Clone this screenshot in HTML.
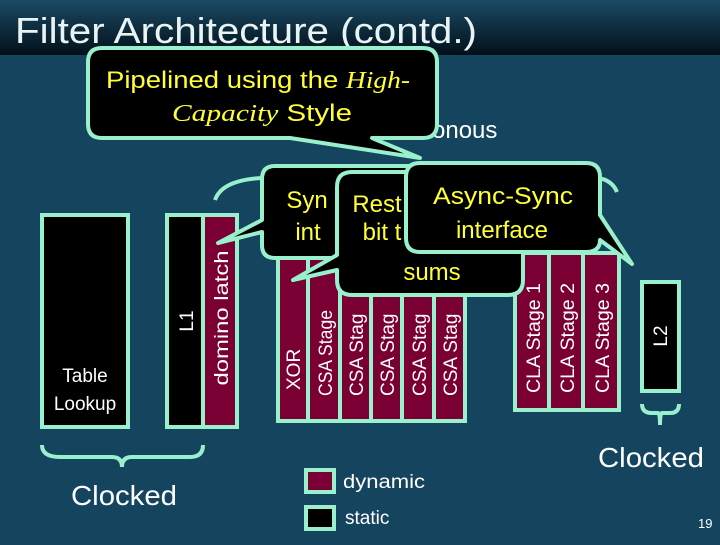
<!DOCTYPE html>
<html><head><style>
html,body{margin:0;padding:0;}
body{width:720px;height:540px;overflow:hidden;background:#15445f;}
text{font-family:"Liberation Sans","DejaVu Sans",sans-serif;}
</style></head><body>
<svg width="720" height="540" viewBox="0 0 720 540" xmlns="http://www.w3.org/2000/svg">
<defs>
<linearGradient id="tb" x1="0" y1="0" x2="0" y2="1">
<stop offset="0" stop-color="#1b4a64"/><stop offset="1" stop-color="#02101a"/>
</linearGradient>
</defs>
<rect x="0" y="0" width="720" height="540" fill="#15445f"/>
<rect x="0" y="0" width="720" height="55" fill="url(#tb)"/>
<text x="15" y="43" font-size="36" fill="#e8f4f4" textLength="462" lengthAdjust="spacingAndGlyphs">Filter Architecture (contd.)</text>

<g stroke="#99f0cc" stroke-width="4">
<rect x="42" y="215" width="86" height="212" fill="#000"/>
<rect x="167" y="215" width="36" height="212" fill="#000"/>
<rect x="203" y="215" width="34" height="212" fill="#7a0033"/>
<rect x="278" y="258" width="30" height="163" fill="#7a0033"/>
<rect x="308" y="258" width="32" height="163" fill="#7a0033"/>
<rect x="340" y="258" width="31" height="163" fill="#7a0033"/>
<rect x="371" y="258" width="31" height="163" fill="#7a0033"/>
<rect x="402" y="258" width="32" height="163" fill="#7a0033"/>
<rect x="434" y="258" width="31" height="163" fill="#7a0033"/>
<rect x="515" y="253" width="34" height="157" fill="#7a0033"/>
<rect x="549" y="253" width="34" height="157" fill="#7a0033"/>
<rect x="583" y="253" width="36" height="157" fill="#7a0033"/>
<rect x="642" y="282" width="37" height="109" fill="#000"/>
<rect x="306" y="470" width="28" height="22" fill="#7a0033"/>
<rect x="306" y="507" width="28" height="22" fill="#000"/>
</g>
<g fill="#fff" font-size="19">
<text x="85" y="382" text-anchor="middle">Table</text>
<text x="85" y="410" text-anchor="middle">Lookup</text>
<text transform="translate(193,321) rotate(-90)" text-anchor="middle">L1</text>
<text transform="translate(228,318) rotate(-90)" text-anchor="middle" textLength="135" lengthAdjust="spacingAndGlyphs">domino latch</text>
<text transform="translate(300,390) rotate(-90)">XOR</text>
<text transform="translate(332,396) rotate(-90)" textLength="86" lengthAdjust="spacingAndGlyphs">CSA Stage</text>
<text transform="translate(363,396) rotate(-90)">CSA Stag</text>
<text transform="translate(394,396) rotate(-90)">CSA Stag</text>
<text transform="translate(426,396) rotate(-90)">CSA Stag</text>
<text transform="translate(457,396) rotate(-90)">CSA Stag</text>
<text transform="translate(540,393) rotate(-90)" textLength="110" lengthAdjust="spacingAndGlyphs">CLA Stage 1</text>
<text transform="translate(574,393) rotate(-90)" textLength="110" lengthAdjust="spacingAndGlyphs">CLA Stage 2</text>
<text transform="translate(609,393) rotate(-90)" textLength="110" lengthAdjust="spacingAndGlyphs">CLA Stage 3</text>
<text transform="translate(667,336) rotate(-90)" text-anchor="middle">L2</text>
<text x="343" y="488" textLength="82" lengthAdjust="spacingAndGlyphs">dynamic</text>
<text x="345" y="524">static</text>
<text x="698" y="528" font-size="13">19</text>
</g>
<g fill="#fff" font-size="28">
<text x="124" y="505" text-anchor="middle" textLength="106" lengthAdjust="spacingAndGlyphs">Clocked</text>
<text x="651" y="467" text-anchor="middle" textLength="106" lengthAdjust="spacingAndGlyphs">Clocked</text>
</g>
<text x="432" y="138" fill="#fff" font-size="24">onous</text>
<g fill="none" stroke="#99f0cc" stroke-width="4">
<path d="M42 445 Q42 457 60 457 L112 457 Q122 457 122 467 Q122 457 132 457 L190 457 Q203 457 203 445"/>
<path d="M642 404 Q642 413 652 413 L658 413 Q660 413 660 425 Q660 413 662 413 L670 413 Q679 413 679 404"/>
<path d="M215 200 Q222 180 262 178"/>
<path d="M598 178 Q612 180 617 192"/>
</g>
<g stroke="#99f0cc" stroke-width="4" fill="#000" stroke-linejoin="round">
<path d="M102 48 H423 Q437 48 437 62 V124 Q437 138 423 138 H372 L420 158 L290 138 H102 Q88 138 88 124 V62 Q88 48 102 48 Z"/>
<path d="M275 166 H420 V258 H275 Q262 258 262 245 V232 L218 243 L262 220 V179 Q262 166 275 166 Z"/>
<path d="M352 172 H508 Q523 172 523 187 V280 Q523 295 508 295 H352 Q337 295 337 280 V270 L293 280 L337 255 V187 Q337 172 352 172 Z"/>
<path d="M420 163 H586 Q600 163 600 177 V215 L632 264 L600 240 Q600 252 586 252 H420 Q406 252 406 238 V177 Q406 163 420 163 Z"/>
</g>
<g fill="#ffff33" font-size="24" text-anchor="middle">
<text x="258" y="88" textLength="304" lengthAdjust="spacingAndGlyphs">Pipelined using the <tspan font-family="Liberation Serif" font-style="italic">High-</tspan></text>
<text x="262" y="121" textLength="180" lengthAdjust="spacingAndGlyphs"><tspan font-family="Liberation Serif" font-style="italic">Capacity</tspan> Style</text>
<text x="307" y="208">Syn</text>
<text x="308" y="240">int</text>
<text x="377" y="212">Rest</text>
<text x="382" y="240">bit t</text>
<text x="432" y="280">sums</text>
<text x="503" y="204" textLength="140" lengthAdjust="spacingAndGlyphs">Async-Sync</text>
<text x="502" y="238">interface</text>
</g>
</svg>
</body></html>
